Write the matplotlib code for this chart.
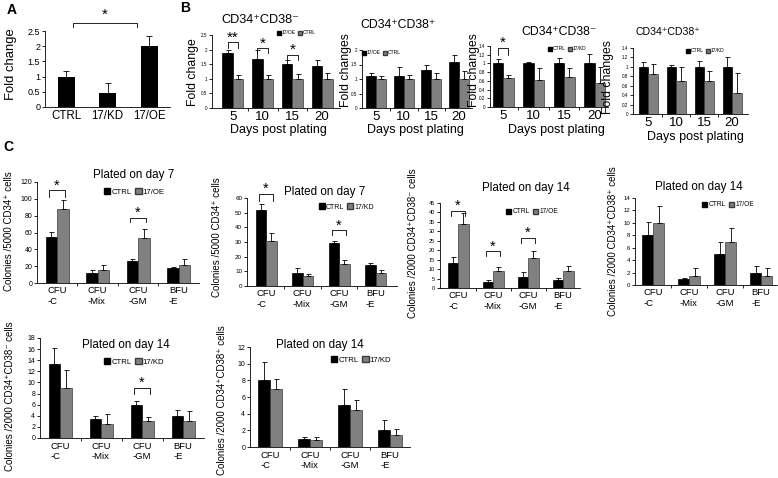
import matplotlib
matplotlib.use('Agg')
import matplotlib.pyplot as plt
from matplotlib.patches import Patch
from matplotlib.ticker import FuncFormatter

plt.rcParams['font.family'] = ['Liberation Sans', 'DejaVu Sans']
plt.rcParams['axes.linewidth'] = 0.6

# ---------------- data ----------------
A_cats = ['CTRL', '17/KD', '17/OE']
A_vals = [1.0, 0.45, 2.0]
A_err = [0.2, 0.33, 0.35]

days = ['5', '10', '15', '20']
B1_oe = [1.9, 1.68, 1.52, 1.43]
B1_oe_err = [0.1, 0.3, 0.12, 0.2]
B1_ctrl = [1.0, 1.0, 1.0, 1.0]
B1_ctrl_err = [0.12, 0.12, 0.16, 0.2]

B2_oe = [1.1, 1.1, 1.3, 1.6]
B2_oe_err = [0.1, 0.3, 0.2, 0.22]
B2_ctrl = [1.0, 1.0, 1.0, 1.0]
B2_ctrl_err = [0.12, 0.15, 0.2, 0.28]

B3_ctrl = [1.0, 1.0, 1.0, 1.0]
B3_ctrl_err = [0.1, 0.04, 0.12, 0.22]
B3_kd = [0.67, 0.63, 0.7, 0.55]
B3_kd_err = [0.07, 0.27, 0.2, 0.36]

B4_ctrl = [1.0, 1.0, 1.0, 1.0]
B4_ctrl_err = [0.1, 0.04, 0.13, 0.2]
B4_kd = [0.84, 0.71, 0.71, 0.45]
B4_kd_err = [0.22, 0.28, 0.2, 0.42]

colony_types = ['CFU\n-C', 'CFU\n-Mix', 'CFU\n-GM', 'BFU\n-E']
C1_ctrl = [55, 12, 26, 18]
C1_ctrl_err = [6, 4, 3, 1]
C1_oe = [88, 15, 54, 21]
C1_oe_err = [11, 6, 10, 7]

C2_ctrl = [52, 9, 29, 14]
C2_ctrl_err = [4, 3, 2, 1.5]
C2_kd = [31, 7, 15, 9]
C2_kd_err = [5, 1.5, 2.5, 2]

C3_ctrl = [13, 3, 6, 4]
C3_ctrl_err = [3.5, 1.2, 2.5, 1.4]
C3_oe = [34, 9, 16, 9]
C3_oe_err = [5.5, 2.3, 3.5, 2.7]

C4_ctrl = [8, 1, 5, 2]
C4_ctrl_err = [2.2, 0.2, 2, 1.1]
C4_oe = [10, 1.5, 7, 1.5]
C4_oe_err = [2.7, 1.2, 2.1, 1.3]

C5_ctrl = [13.3, 3.5, 6, 4]
C5_ctrl_err = [2.9, 0.5, 0.6, 1.1]
C5_kd = [9, 2.5, 3, 3]
C5_kd_err = [3.3, 1.8, 0.7, 1.8]

C6_ctrl = [8, 1, 5, 2]
C6_ctrl_err = [2.2, 0.2, 2, 1.2]
C6_kd = [7, 0.8, 4.5, 1.5]
C6_kd_err = [1.2, 0.4, 1.1, 0.7]

# significance: (category, bracket level, bracket foot level, label)
A_sig = (0, 2, 2.76, 2.63, '*')
B1_sig = [(0, 2.25, 2.06, '**'), (1, 2.04, 1.87, '*'), (2, 1.81, 1.66, '*')]
B3_sig = [(0, 1.35, 1.2, '*')]
C1_sig = [(0, 110, 102, '*'), (2, 77, 72, '*')]
C2_sig = [(0, 63, 58, '*'), (2, 38, 35, '*')]
C3_sig = [(0, 41, 38, '*'), (1, 19.4, 16.8, '*'), (2, 26.5, 23.8, '*')]
C5_sig = [(2, 9.0, 8.0, '*')]

# ---------------- figure ----------------
W, H = 778, 478
fig = plt.figure(figsize=(W / 100, H / 100), dpi=100)
BLACK = '#000000'
GRAY = '#808080'
EDGE = '#3a3a3a'


def fmt(v, pos):
    return f'{v:g}'


def make_ax(left, right, top, zero, ymax, ystep, c0, sp, ytick_fs):
    ax = fig.add_axes([left / W, 1 - zero / H, (right - left) / W, (zero - top) / H])
    ax.set_ylim(0, ymax)
    ax.set_xlim((left - c0) / sp, (right - c0) / sp)
    for s in ['top', 'right']:
        ax.spines[s].set_visible(False)
    n = int(round(ymax / ystep))
    ax.set_yticks([i * ystep for i in range(n + 1)])
    ax.yaxis.set_major_formatter(FuncFormatter(fmt))
    ax.tick_params(axis='y', direction='out', length=2, width=0.6,
                   labelsize=ytick_fs, pad=1.5)
    ax.patch.set_alpha(0)
    return ax


def pair_bars(ax, sp, barw, black, black_err, gray, gray_err):
    w = barw / sp
    x = list(range(len(black)))
    xb = [i - w / 2 for i in x]
    xg = [i + w / 2 for i in x]
    ax.bar(xb, black, width=w, color=BLACK, edgecolor=BLACK, linewidth=0.5, zorder=2)
    ax.bar(xg, gray, width=w, color=GRAY, edgecolor=EDGE, linewidth=0.5, zorder=2)
    ax.errorbar(xb, black, yerr=[[0] * len(black), black_err], fmt='none',
                ecolor='k', elinewidth=0.6, capsize=1.8, capthick=0.6, zorder=3)
    ax.errorbar(xg, gray, yerr=[[0] * len(gray), gray_err], fmt='none',
                ecolor='k', elinewidth=0.6, capsize=1.8, capthick=0.6, zorder=3)
    ax.set_xticks(x)
    ax.set_xticks([i + 0.5 for i in x[:-1]], minor=True)
    return w


def xlabels(ax, labels, fs, pad, ls=1.2):
    ax.set_xticklabels(labels, fontsize=fs, linespacing=ls, multialignment='left')
    ax.tick_params(axis='x', which='major', length=0, pad=pad)
    ax.tick_params(axis='x', which='minor', length=2, width=0.6, direction='out')


def legend(ax, labels, x, y, fs):
    handles = [Patch(facecolor=BLACK, edgecolor=BLACK),
               Patch(facecolor=GRAY, edgecolor=EDGE)]
    ax.legend(handles, labels, ncol=2, loc='center left',
              bbox_to_anchor=(x / W, 1 - y / H), bbox_transform=fig.transFigure,
              frameon=False, fontsize=fs, handlelength=0.8, handleheight=0.8,
              handletextpad=0.15, columnspacing=0.5, borderpad=0, borderaxespad=0)


def sigs(ax, w, items, fs, dx=0.0):
    for (i, lev, foot, lab) in items:
        x1, x2 = i - w / 2 - dx, i + w / 2 + dx
        ax.plot([x1, x1, x2, x2], [foot, lev, lev, foot], color='k', lw=0.6,
                clip_on=False, zorder=4)
        ax.annotate(lab, ((x1 + x2) / 2, lev), xytext=(0, -1.5),
                    textcoords='offset points', ha='center', va='bottom',
                    fontsize=fs, annotation_clip=False)


def ftext(x, y, s, fs, **kw):
    fig.text(x / W, 1 - y / H, s, fontsize=fs, ha=kw.pop('ha', 'center'),
             va=kw.pop('va', 'center'), **kw)


# ---------------- panel A ----------------
axA = make_ax(45, 170, 31, 107, 2.5, 0.5, 66, 41.7, 6.5)
wA = 17 / 41.7
axA.bar(range(3), A_vals, width=wA, color=BLACK, zorder=2)
axA.errorbar(range(3), A_vals, yerr=[[0] * 3, A_err], fmt='none', ecolor='k',
             elinewidth=0.6, capsize=2, capthick=0.6, zorder=3)
axA.set_xticks(range(3))
xlabels(axA, A_cats, 8.3, 2)
ia, ib, levA, footA, labA = A_sig
axA.plot([ia + 0.17, ia + 0.17, ib - 0.3, ib - 0.3], [footA, levA, levA, footA],
         color='k', lw=0.6, clip_on=False)
axA.annotate(labA, ((ia + ib) / 2 - 0.06, levA), xytext=(0, 1), textcoords='offset points',
             ha='center', va='bottom', fontsize=11, annotation_clip=False)
ftext(11, 64, 'Fold change', 9.4, rotation=90)
ftext(12, 10, 'A', 10, fontweight='bold')

# ---------------- panel B ----------------
ftext(185, 8, 'B', 10, fontweight='bold')

b_panels = [
    dict(geo=(212, 340, 35, 108, 2.5, 0.5, 233, 29.7), barw=10.5,
         data=(B1_oe, B1_oe_err, B1_ctrl, B1_ctrl_err), leg=(['17/OE', 'CTRL'], 277, 33),
         title=('CD34⁺CD38⁻', 260, 20, 9.2), ylab=('Fold change', 193, 72),
         xlab=(278, 130), sig=B1_sig),
    dict(geo=(362, 472, 50, 108, 2.0, 0.5, 376, 27.7), barw=10,
         data=(B2_oe, B2_oe_err, B2_ctrl, B2_ctrl_err), leg=(['17/OE', 'CTRL'], 362, 53),
         title=('CD34⁺CD38⁺', 398, 25, 8.8), ylab=('Fold changes', 346, 70),
         xlab=(415, 130), sig=None),
    dict(geo=(490, 608, 46, 107, 1.4, 0.2, 503, 30.5), barw=10.5,
         data=(B3_ctrl, B3_ctrl_err, B3_kd, B3_kd_err), leg=(['CTRL', '17/KD'], 548, 49),
         title=('CD34⁺CD38⁻', 559, 32, 8.8), ylab=('Fold changes', 474, 70),
         xlab=(556, 130), sig=B3_sig),
    dict(geo=(633, 748, 48, 114, 1.4, 0.2, 648, 28), barw=9.5,
         data=(B4_ctrl, B4_ctrl_err, B4_kd, B4_kd_err), leg=(['CTRL', '17/KD'], 686, 51),
         title=('CD34⁺CD38⁺', 668, 32, 7.6), ylab=('Fold changes', 608, 77),
         xlab=(695, 137), sig=None),
]

for p in b_panels:
    left, right, top, zero, ymax, ystep, c0, sp = p['geo']
    ax = make_ax(left, right, top, zero, ymax, ystep, c0, sp, 3.3)
    w = pair_bars(ax, sp, p['barw'], *p['data'])
    xlabels(ax, days, 9.5, 2.5)
    labs, lx, ly = p['leg']
    legend(ax, labs, lx, ly, 3.6)
    t, tx, ty, tfs = p['title']
    ftext(tx, ty, t, tfs)
    yl, yx, yy = p['ylab']
    ftext(yx, yy, yl, 8.8, rotation=90)
    ftext(p['xlab'][0], p['xlab'][1], 'Days post plating', 9)
    if p['sig']:
        sigs(ax, w, p['sig'], 11)

# ---------------- panel C ----------------
ftext(8, 147, 'C', 10, fontweight='bold')

c_panels = [
    dict(geo=(37, 199, 182, 283, 120, 20, 57, 40.5), barw=11.5,
         data=(C1_ctrl, C1_ctrl_err, C1_oe, C1_oe_err), leg=(['CTRL', '17/OE'], 104, 192, 5.6),
         title=('Plated on day 7', 134, 175), ylab=('Colonies /5000 CD34⁺ cells', 9, 231),
         tfs=5, xpad=2.5, sig=C1_sig),
    dict(geo=(247, 397, 198, 286, 60, 10, 266, 36.5), barw=10.5,
         data=(C2_ctrl, C2_ctrl_err, C2_kd, C2_kd_err), leg=(['CTRL', '17/KD'], 319, 207, 5),
         title=('Plated on day 7', 325, 192), ylab=('Colonies /5000 CD34⁺ cells', 217, 237),
         tfs=4.5, xpad=2.5, sig=C2_sig),
    dict(geo=(440, 580, 203, 288, 45, 5, 458, 35), barw=10.5,
         data=(C3_ctrl, C3_ctrl_err, C3_oe, C3_oe_err), leg=(['CTRL', '17/OE'], 506, 212, 4.8),
         title=('Plated on day 14', 526, 188), ylab=('Colonies /2000 CD34⁺CD38⁻ cells', 413, 243),
         tfs=4, xpad=2.5, sig=C3_sig),
    dict(geo=(635, 777, 198, 285, 14, 2, 653, 36), barw=11,
         data=(C4_ctrl, C4_ctrl_err, C4_oe, C4_oe_err), leg=(['CTRL', '17/OE'], 702, 205, 4.8),
         title=('Plated on day 14', 699, 187), ylab=('Colonies /2000 CD34⁺CD38⁺ cells', 613, 241),
         tfs=4.3, xpad=2.5, sig=None),
    dict(geo=(40, 204, 338, 438, 18, 2, 60, 41), barw=11.5,
         data=(C5_ctrl, C5_ctrl_err, C5_kd, C5_kd_err), leg=(['CTRL', '17/KD'], 104, 362, 5.6),
         title=('Plated on day 14', 126, 345), ylab=('Colonies /2000 CD34⁺CD38⁻ cells', 10, 396),
         tfs=5, xpad=3, sig=C5_sig),
    dict(geo=(250, 410, 347, 447, 12, 2, 270, 40), barw=12,
         data=(C6_ctrl, C6_ctrl_err, C6_kd, C6_kd_err), leg=(['CTRL', '17/KD'], 331, 360, 5.6),
         title=('Plated on day 14', 320, 345), ylab=('Colonies /2000 CD34⁺CD38⁺ cells', 222, 400),
         tfs=5, xpad=3, sig=None),
]

for p in c_panels:
    left, right, top, zero, ymax, ystep, c0, sp = p['geo']
    ax = make_ax(left, right, top, zero, ymax, ystep, c0, sp, p['tfs'])
    w = pair_bars(ax, sp, p['barw'], *p['data'])
    xlabels(ax, colony_types, 6.8, p['xpad'], 1.15)
    labs, lx, ly, lfs = p['leg']
    legend(ax, labs, lx, ly, lfs)
    t, tx, ty = p['title']
    ftext(tx, ty, t, 8.4)
    yl, yx, yy = p['ylab']
    ftext(yx, yy, yl, 7.0, rotation=90)
    if p['sig']:
        sigs(ax, w, p['sig'], 10.5, dx=0.05)

fig.savefig('out.png', dpi=100)
